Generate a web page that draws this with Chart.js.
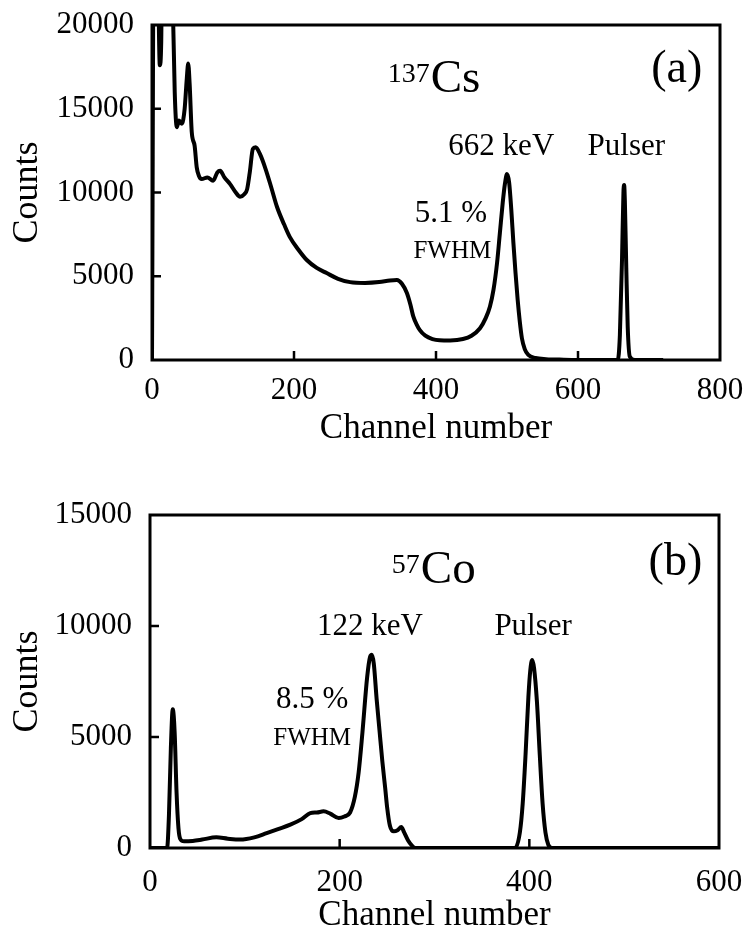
<!DOCTYPE html>
<html lang="en">

<head>
  <meta charset="UTF-8">
  <title>Spectra</title>
  <script src="https://cdn.jsdelivr.net/npm/chart.js"></script>
  <style>
    body { margin: 0; background: #fff; }
    .painel { position: absolute; left: 0; }
  </style>
</head>

<body>
  <div class="painel" style="top: 0px;"><canvas id="grafico_cs" width="747" height="460"></canvas></div>
  <div class="painel" style="top: 470px;"><canvas id="grafico_co" width="747" height="473"></canvas></div>

<script>
  // 137Cs spectrum (panel a)
  const csChannels = [0, 3, 7, 9, 11, 13, 15, 25, 29, 32, 35, 38, 42, 46, 49, 51, 53, 56, 60, 63, 66, 70, 78, 86, 92, 96,
    102, 110, 118, 124, 130, 134, 138, 142, 146, 152, 160, 168, 176, 186, 194, 206, 218, 232, 246, 262, 279, 300, 320,
    335, 345, 352, 359, 364, 368, 373, 377, 385, 395, 405, 420, 438, 450, 462, 470, 476, 481, 486, 490, 494, 497, 500,
    503, 506, 509, 512, 515, 518, 521, 525, 530, 540, 555, 580, 620, 656, 659, 662, 664, 665, 666, 668, 670, 673, 680, 720];
  const csCounts = [0, 30000, 30000, 22000, 17600, 19000, 30000, 30000, 22000, 16000, 13900, 14300, 14100, 15000, 16800,
    17700, 16500, 13600, 12800, 11500, 11000, 10800, 10900, 10700, 11200, 11300, 10900, 10500, 10000, 9750, 9900, 10200,
    11300, 12600, 12700, 12300, 11400, 10300, 9150, 8100, 7350, 6600, 5970, 5500, 5190, 4850, 4650, 4600, 4650, 4750,
    4780, 4550, 4000, 3300, 2600, 2100, 1800, 1450, 1250, 1180, 1170, 1250, 1450, 1900, 2500, 3200, 4200, 5800, 7600,
    9400, 10500, 11100, 10600, 9000, 7000, 5200, 3600, 2300, 1300, 650, 300, 120, 50, 20, 0, 0, 1500, 6000, 10000,
    10450, 9500, 5500, 2000, 200, 0, 0];

  // 57Co spectrum (panel b)
  const coChannels = [0, 18, 20, 22, 24, 26, 28, 30, 32, 36, 45, 55, 70, 82, 95, 110, 123, 135, 148, 160, 169, 176, 183,
    190, 199, 205, 211, 216, 220, 224, 229, 232, 234, 236, 239, 242, 245, 248, 250, 253, 257, 261, 265, 268, 272, 276,
    280, 385, 390, 393, 396, 399, 401, 403, 405, 408, 411, 414, 417, 420, 424, 600];
  const coCounts = [0, 0, 1500, 4500, 6250, 5200, 2500, 900, 400, 300, 320, 380, 480, 420, 380, 480, 670, 850, 1050, 1300,
    1570, 1600, 1650, 1550, 1350, 1420, 1600, 2300, 3400, 5200, 7700, 8600, 8700, 8300, 6700, 5300, 3900, 2700, 1850,
    1000, 750, 800, 950, 700, 350, 120, 0, 0, 700, 2000, 4200, 6800, 8000, 8470, 8100, 6600, 4200, 2000, 700, 150, 0, 0];

  const csXTicks = [0, 200, 400, 600, 800];
  const csYTicks = [0, 5000, 10000, 15000, 20000];
  const coXTicks = [0, 200, 400, 600];
  const coYTicks = [0, 5000, 10000, 15000];

  const fonte = '"Liberation Serif", "Times New Roman", serif';

  // moldura + ticks para dentro + textos
  const molduraPlugin = {
    id: 'moldura',
    afterDraw(chart, args, opts) {
      const ctx = chart.ctx;
      const a = chart.chartArea;
      const sx = chart.scales.x, sy = chart.scales.y;
      ctx.save();
      ctx.strokeStyle = '#000';
      ctx.lineWidth = 3;
      ctx.strokeRect(a.left, a.top, a.right - a.left, a.bottom - a.top);
      ctx.lineWidth = 2.5;
      ctx.beginPath();
      opts.xTicks.slice(1, -1).forEach(v => {
        const px = sx.getPixelForValue(v);
        ctx.moveTo(px, a.bottom);
        ctx.lineTo(px, a.bottom - 9);
      });
      opts.yTicks.slice(1, -1).forEach(v => {
        const py = sy.getPixelForValue(v);
        ctx.moveTo(a.left, py);
        ctx.lineTo(a.left + 9, py);
      });
      ctx.stroke();

      ctx.fillStyle = '#000';
      opts.textos.forEach(t => {
        let px = sx.getPixelForValue(t.x);
        const py = sy.getPixelForValue(t.y);
        ctx.textBaseline = t.base || 'alphabetic';
        if (t.sup) {
          ctx.textAlign = 'left';
          ctx.font = t.supSize + 'px ' + fonte;
          ctx.fillText(t.sup, px, py - 10);
          px += ctx.measureText(t.sup).width + 1;
        } else {
          ctx.textAlign = 'center';
        }
        ctx.font = t.size + 'px ' + fonte;
        ctx.fillText(t.text, px, py);
      });
      ctx.restore();
    }
  };

  function semPadding(s) {
    s.paddingTop = 0;
    s.paddingBottom = 0;
    s.paddingLeft = 0;
    s.paddingRight = 0;
  }

  function eixos(xTicks, yTicks, yWidth, xHeight, xLabelPad, xTitlePad) {
    return {
      x: {
        type: 'linear',
        min: xTicks[0],
        max: xTicks[xTicks.length - 1],
        afterBuildTicks: s => { s.ticks = xTicks.map(v => ({ value: v })); },
        afterFit: s => { s.height = xHeight; semPadding(s); },
        grid: { display: false, drawTicks: false },
        border: { display: false },
        ticks: { color: '#000', padding: xLabelPad, maxRotation: 0, callback: v => String(v), font: { family: fonte, size: 31, lineHeight: 1 } },
        title: { display: true, text: 'Channel number', color: '#000', padding: { top: 0, bottom: xTitlePad }, font: { family: fonte, size: 35, lineHeight: 1 } }
      },
      y: {
        type: 'linear',
        min: yTicks[0],
        max: yTicks[yTicks.length - 1],
        afterBuildTicks: s => { s.ticks = yTicks.map(v => ({ value: v })); },
        afterFit: s => { s.width = yWidth; semPadding(s); },
        grid: { display: false, drawTicks: false },
        border: { display: false },
        ticks: { color: '#000', padding: 18, callback: v => String(v), font: { family: fonte, size: 31, lineHeight: 1 } },
        title: { display: true, text: 'Counts', color: '#000', padding: { top: 10, bottom: 0 }, font: { family: fonte, size: 36, lineHeight: 1 } }
      }
    };
  }

  function serie(xs, ys) {
    return xs.map((c, i) => ({ x: c, y: ys[i] }));
  }

  const configCs = {
    type: 'scatter',
    data: {
      datasets: [{
        label: '137Cs',
        data: serie(csChannels, csCounts),
        showLine: true,
        borderColor: '#000',
        borderWidth: 4,
        pointRadius: 0,
        cubicInterpolationMode: 'monotone'
      }]
    },
    options: {
      responsive: false,
      animation: false,
      devicePixelRatio: 1,
      layout: { padding: { top: 25, right: 27, left: 0, bottom: 0 } },
      plugins: {
        legend: { display: false },
        tooltip: { enabled: false },
        moldura: {
          xTicks: csXTicks,
          yTicks: csYTicks,
          textos: [
            { text: 'Cs', sup: '137', supSize: 28, size: 47, x: 332, y: 16000 },
            { text: '(a)', size: 46, x: 739, y: 17300, base: 'middle' },
            { text: '662 keV', size: 31, x: 492, y: 12240 },
            { text: 'Pulser', size: 31, x: 668, y: 12240 },
            { text: '5.1 %', size: 31, x: 421, y: 8240 },
            { text: 'FWHM', size: 25, x: 423, y: 6090 }
          ]
        }
      },
      scales: eixos(csXTicks, csYTicks, 152, 100, 15, 14)
    },
    plugins: [molduraPlugin]
  };

  const configCo = {
    type: 'scatter',
    data: {
      datasets: [{
        label: '57Co',
        data: serie(coChannels, coCounts),
        showLine: true,
        borderColor: '#000',
        borderWidth: 4,
        pointRadius: 0,
        cubicInterpolationMode: 'monotone'
      }]
    },
    options: {
      responsive: false,
      animation: false,
      devicePixelRatio: 1,
      layout: { padding: { top: 45, right: 28, left: 0, bottom: 0 } },
      plugins: {
        legend: { display: false },
        tooltip: { enabled: false },
        moldura: {
          xTicks: coXTicks,
          yTicks: coYTicks,
          textos: [
            { text: 'Co', sup: '57', supSize: 28, size: 47, x: 255, y: 11940 },
            { text: '(b)', size: 46, x: 554, y: 12840, base: 'middle' },
            { text: '122 keV', size: 31, x: 232, y: 9590 },
            { text: 'Pulser', size: 31, x: 404, y: 9590 },
            { text: '8.5 %', size: 31, x: 171, y: 6300 },
            { text: 'FWHM', size: 25, x: 171, y: 4640 }
          ]
        }
      },
      scales: eixos(coXTicks, coYTicks, 150, 95, 19, 10)
    },
    plugins: [molduraPlugin]
  };

  new Chart(document.getElementById('grafico_cs'), configCs);
  new Chart(document.getElementById('grafico_co'), configCo);
</script>
</body>

</html>
